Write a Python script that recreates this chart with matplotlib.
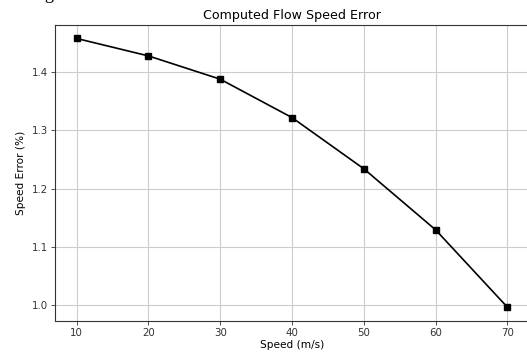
import numpy as np
import matplotlib
matplotlib.use("Agg")
import matplotlib.pyplot as plt

# speed (m/s) vs computed flow speed error (%)
speed = [10, 20, 30, 40, 50, 60, 70]
speed_error = [1.458, 1.428, 1.388, 1.322, 1.234, 1.129, 0.996]

fig = plt.figure(figsize=(5.27, 3.53), dpi=100)
# the reference is cropped just before the right spine
ax = fig.add_axes([55/527, 32.3/353, 474/527, (320.7-25)/353])

ax.plot(speed, speed_error, color='black', linewidth=1.2,
        marker='s', markersize=4.5)
ax.grid(True, color='#cccccc', linewidth=0.8)
ax.set_axisbelow(True)

ax.set_title("Computed Flow Speed Error", fontsize=9.1, pad=4)
ax.set_xlabel("Speed (m/s)", fontsize=7.6, labelpad=2)
ax.set_ylabel("Speed Error (%)", fontsize=7.6, labelpad=4)
ax.set_xticks(speed)
ax.set_yticks([1.0, 1.1, 1.2, 1.3, 1.4])
ax.tick_params(labelsize=7.4, length=3, width=0.6, pad=2, colors='#333333')
for s in ax.spines.values():
    s.set_linewidth(0.8)
    s.set_color('#333333')

# stray descender from text above the figure in the source
fig.text(44/527, 1.0 + 1/353, "g", fontsize=13, family='Liberation Serif',
         va='baseline', ha='left')

plt.savefig('out.png', dpi=100)
